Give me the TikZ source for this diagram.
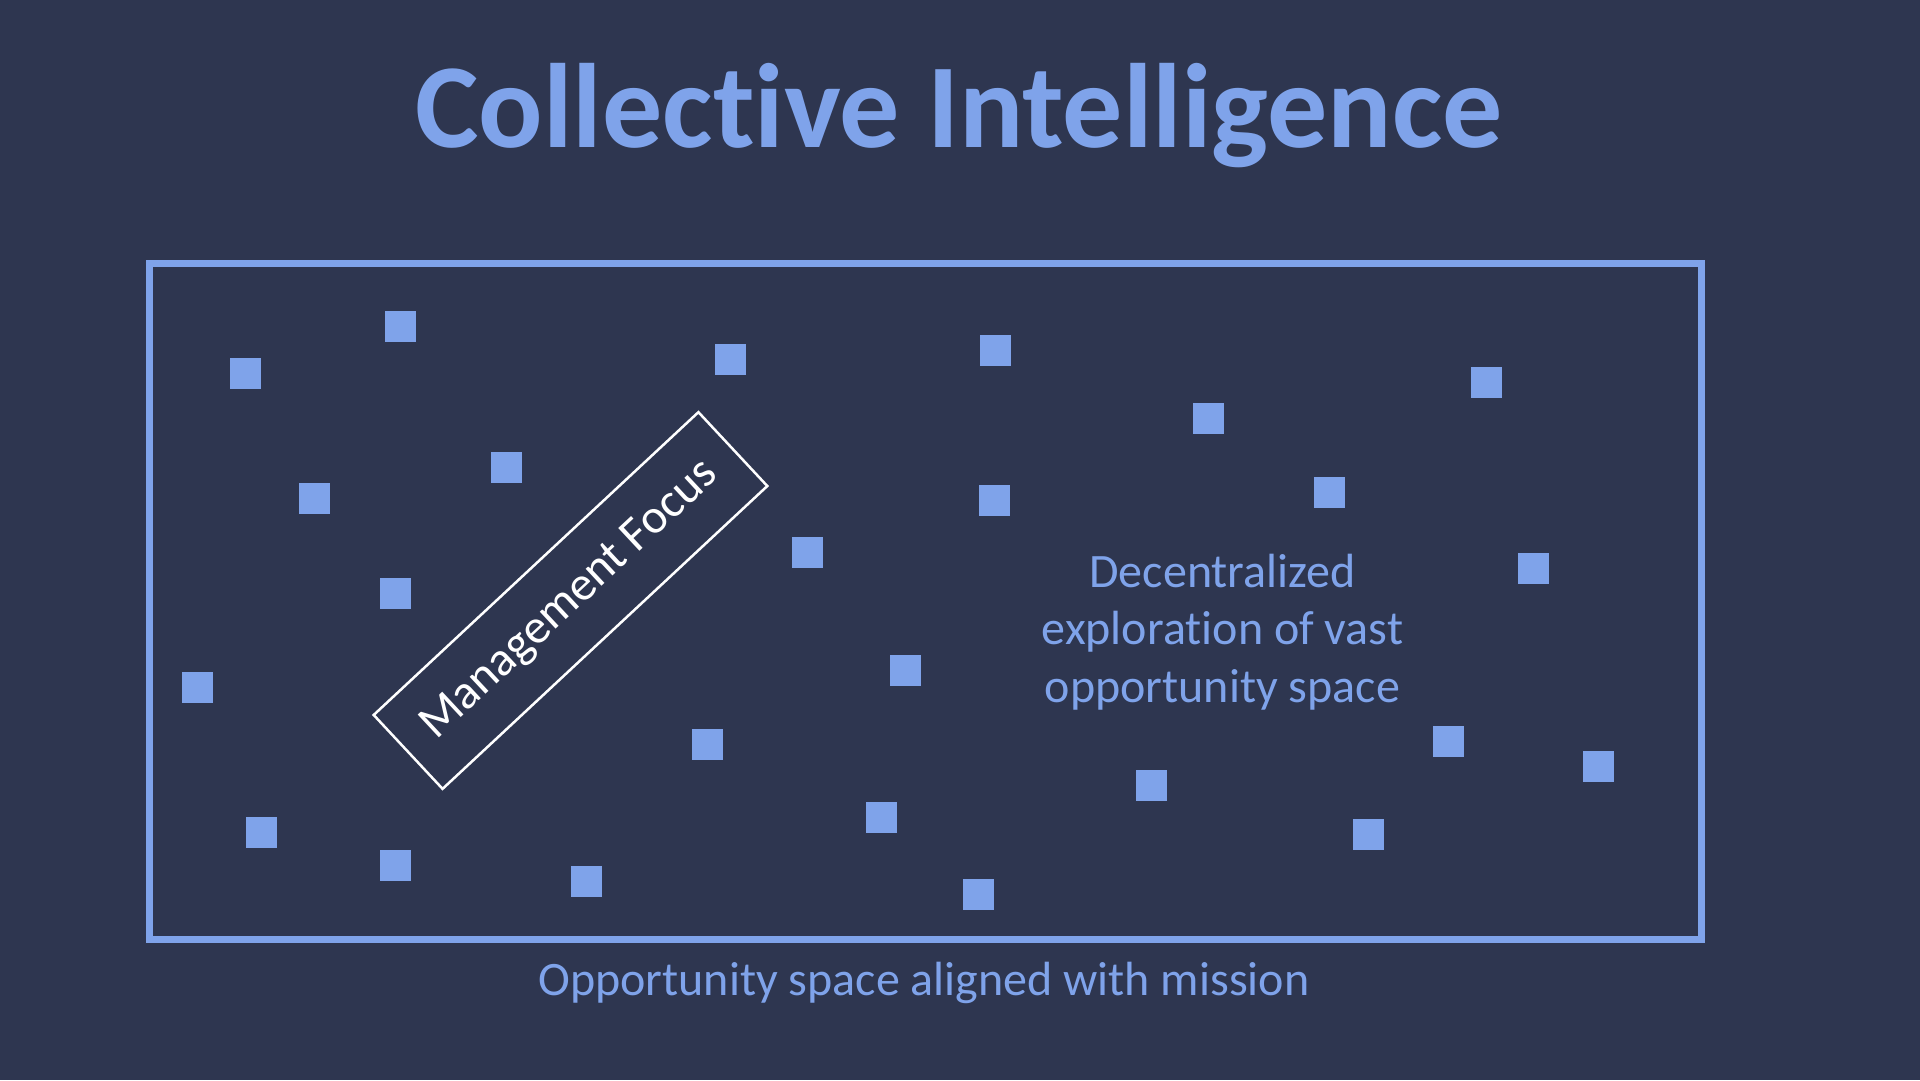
\documentclass[tikz,border=0pt]{standalone}
\usepackage{fontspec}
\setmainfont{Carlito}[Ligatures=NoCommon]
\definecolor{bgcol}{HTML}{2E3650}
\definecolor{accent}{HTML}{7FA3EA}
\tikzset{
  sq/.style={fill=accent, draw=none, minimum size=31pt, inner sep=0pt, outer sep=0pt},
  frame/.style={draw=accent, line width=7pt},
  bodytext/.style={text=accent, inner sep=0pt, font=\fontsize{48}{57.5}\selectfont},
  titletext/.style={text=accent, inner sep=0pt, font=\fontsize{120}{144}\selectfont\bfseries},
  focusbox/.style={draw=white, line width=2.5pt, text=white, rotate=43, minimum width=444pt, minimum height=101pt, inner sep=0pt, font=\fontsize{48.5}{57.5}\selectfont}
}
\begin{document}
\begin{tikzpicture}[x=1pt,y=-1pt]
\fill[bgcol] (0,0) rectangle (1920,1080);
\useasboundingbox (0,0) rectangle (1920,1080);
% title
\node[titletext, anchor=base] (title) at (959,147) {Collective Intelligence};
% frame
\draw[frame] (149.5,263.5) rectangle (1701,939.5);
% squares
\node[sq] (s1) at (245.5,373.5) {};
\node[sq] (s2) at (400.5,326.5) {};
\node[sq] (s3) at (730,359.5) {};
\node[sq] (s4) at (995.5,350.5) {};
\node[sq] (s5) at (1208.5,418.5) {};
\node[sq] (s6) at (1486.5,382) {};
\node[sq] (s7) at (314,498.5) {};
\node[sq] (s8) at (506,467.5) {};
\node[sq] (s9) at (994.5,500.5) {};
\node[sq] (s10) at (1329.5,492.5) {};
\node[sq] (s11) at (807,552.5) {};
\node[sq] (s12) at (395.5,593.5) {};
\node[sq] (s13) at (1533.5,568.5) {};
\node[sq] (s14) at (197,687.5) {};
\node[sq] (s15) at (905.5,670.5) {};
\node[sq] (s16) at (707,744) {};
\node[sq] (s17) at (1448,741.5) {};
\node[sq] (s18) at (1598.5,766.5) {};
\node[sq] (s19) at (1151,785.5) {};
\node[sq] (s20) at (261,832.5) {};
\node[sq] (s21) at (881.5,817) {};
\node[sq] (s22) at (1368.5,834.5) {};
\node[sq] (s23) at (395.5,865.5) {};
\node[sq] (s24) at (586.5,881.5) {};
\node[sq] (s25) at (978.5,894.5) {};
% management focus
\node[focusbox] (focus) at (570.5,600.5) {Management Focus};
% decentralized text (base anchor = baseline of last line)
\node[bodytext, align=center, anchor=base] (decent) at (1222.5,702) {Decentralized\\exploration of vast\\opportunity space};
% caption
\node[bodytext, anchor=base] (caption) at (924,995) {Opportunity space aligned with mission};
\end{tikzpicture}
\end{document}
